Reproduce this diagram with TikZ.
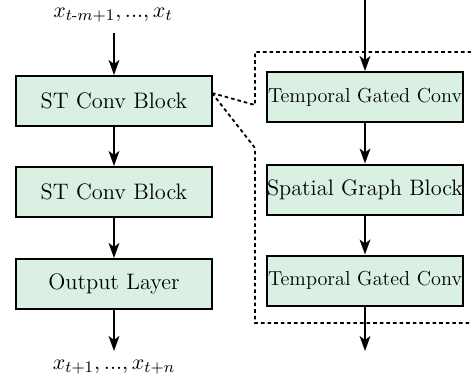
\documentclass[tikz,border=0pt]{standalone}
\usepackage{graphicx}
\usepackage{amsmath}
\usetikzlibrary{arrows.meta}
\definecolor{mint}{RGB}{218,240,227}
\begin{document}
\begin{tikzpicture}[x=0.5pt,y=-0.5pt,
  blk/.style={draw=black,fill=mint,line width=1pt,rectangle,minimum width=98pt,minimum height=25pt,inner sep=0pt,font=\fontsize{11.2}{13}\selectfont},
  arr/.style={line width=0.85pt,-{Stealth[length=7.5pt,width=5.4pt,inset=2pt]}},
  dsh/.style={line width=0.9pt,dash pattern=on 1.8pt off 1.5pt},
  lbl/.style={inner sep=0pt,font=\fontsize{11.2}{13}\selectfont}]
\useasboundingbox (0,0) rectangle (471,376);
% left column
\node[lbl] (in) at (113,15) {$x_{t\text{-}m+1},...,x_t$};
\node[blk] (b1) at (114,101) {ST Conv Block};
\node[blk] (b2) at (114,192) {ST Conv Block};
\node[blk] (b3) at (114,284) {Output Layer};
\node[lbl] (out) at (114,367) {$x_{t+1},...,x_{t+n}$};
\coordinate (inA) at (114,33);
\coordinate (outA) at (114,351);
\draw[arr] (inA) -- (b1.north);
\draw[arr] (b1.south) -- (b2.north);
\draw[arr] (b2.south) -- (b3.north);
\draw[arr] (b3.south) -- (outA);
% right column
\node[blk] (r1) at (365,97) {\resizebox{97pt}{!}{Temporal Gated Conv}};
\node[blk] (r2) at (365,189.5) {\resizebox{98pt}{!}{Spatial Graph Block}};
\node[blk] (r3) at (365,280.5) {\resizebox{97pt}{!}{Temporal Gated Conv}};
\coordinate (rin) at (365,0);
\coordinate (rout) at (365,351);
\draw[arr] (rin) -- (r1.north);
\draw[arr] (r1.south) -- (r2.north);
\draw[arr] (r2.south) -- (r3.north);
\draw[arr] (r3.south) -- (rout);
% zoom callout
\coordinate (z0) at (212,93);
\coordinate (za) at (255,105);
\coordinate (zb) at (255,148);
\coordinate (zt) at (255,52);
\coordinate (zd) at (255,323);
\coordinate (ztr) at (471,52);
\coordinate (zbr) at (471,323);
\draw[dsh] (z0) -- (za) -- (zt) -- (ztr);
\draw[dsh] (z0) -- (zb) -- (zd) -- (zbr);
\end{tikzpicture}
\end{document}
